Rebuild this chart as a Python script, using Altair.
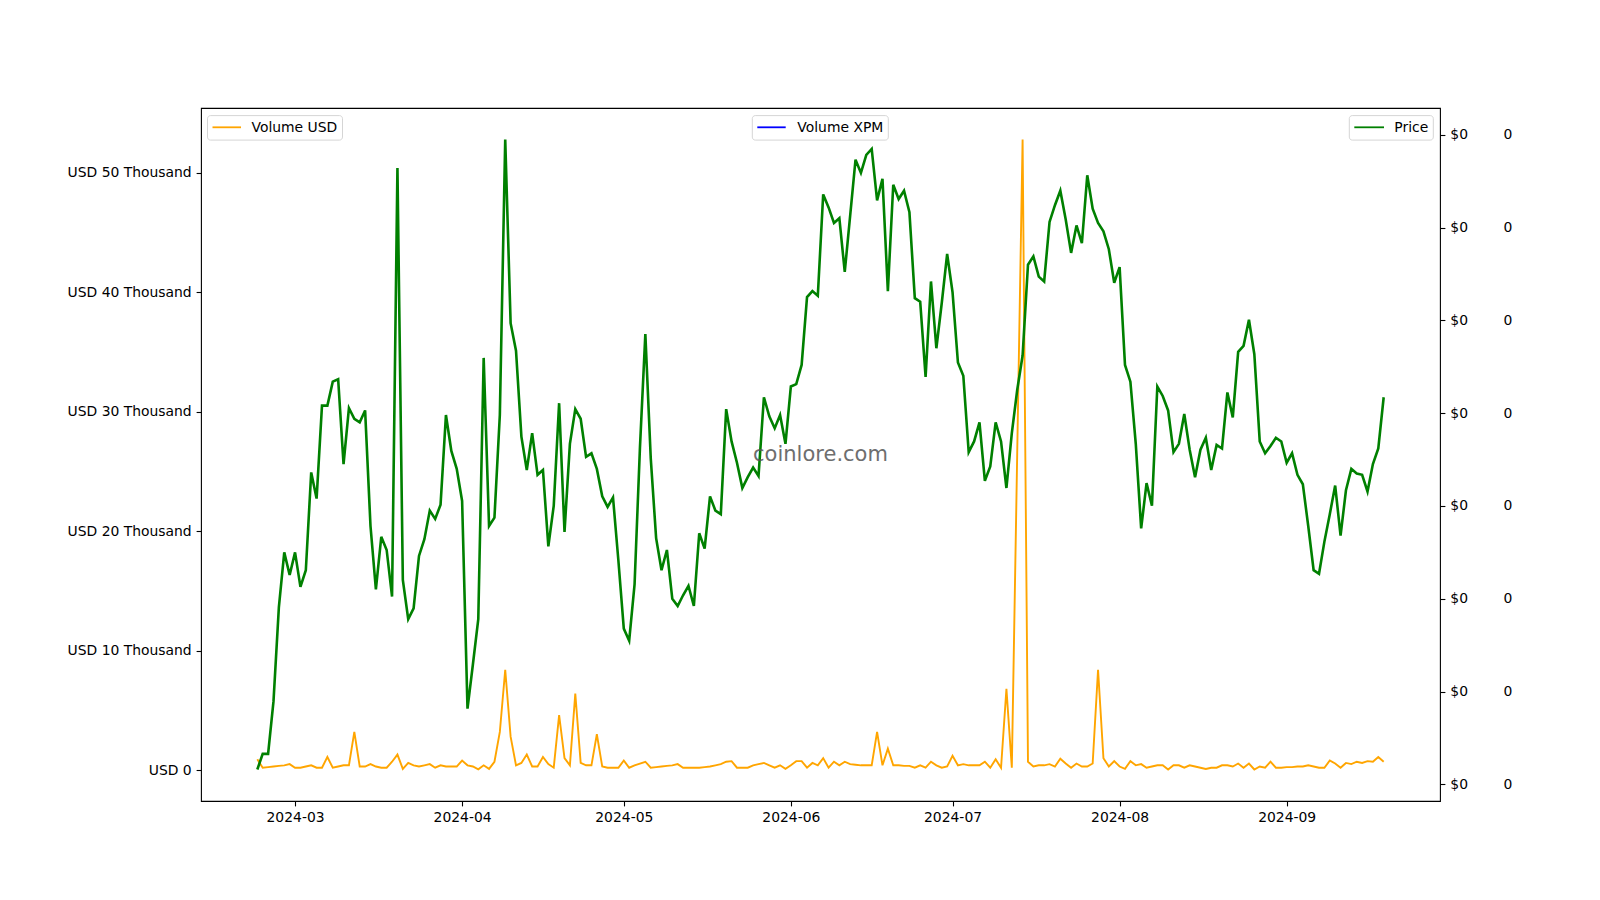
import altair as alt
import pandas as pd

# ---------------- data ----------------
dates = pd.date_range("2024-02-23", "2024-09-19", freq="D")

price = [
    0.02080, 0.02164, 0.02164, 0.02447, 0.02955, 0.03250, 0.03128, 0.03250, 0.03064, 0.03154,
    0.03681, 0.03540, 0.04041, 0.04041, 0.04170, 0.04183, 0.03726, 0.04028, 0.03970, 0.03951,
    0.04015, 0.03392, 0.03051, 0.03334, 0.03263, 0.03012, 0.05321, 0.03102, 0.02890, 0.02948,
    0.03231, 0.03321, 0.03475, 0.03430, 0.03507, 0.03990, 0.03797, 0.03700, 0.03527, 0.02408,
    0.02646, 0.02890, 0.04298, 0.03392, 0.03437, 0.03990, 0.05475, 0.04485, 0.04337, 0.03874,
    0.03694, 0.03893, 0.03668, 0.03694, 0.03282, 0.03501, 0.04054, 0.03360, 0.03835, 0.04022,
    0.03970, 0.03765, 0.03784, 0.03700, 0.03552, 0.03495, 0.03546, 0.03205, 0.02839, 0.02774,
    0.03077, 0.03816, 0.04427, 0.03758, 0.03327, 0.03154, 0.03263, 0.03000, 0.02961, 0.03019,
    0.03070, 0.02961, 0.03353, 0.03270, 0.03552, 0.03475, 0.03456, 0.04022, 0.03848, 0.03733,
    0.03597, 0.03655, 0.03707, 0.03662, 0.04086, 0.03983, 0.03919, 0.03990, 0.03835, 0.04144,
    0.04157, 0.04260, 0.04626, 0.04658, 0.04633, 0.05179, 0.05109, 0.05025, 0.05051, 0.04761,
    0.05064, 0.05366, 0.05295, 0.05392, 0.05424, 0.05147, 0.05263, 0.04658, 0.05231, 0.05154,
    0.05199, 0.05083, 0.04620, 0.04601, 0.04196, 0.04710, 0.04350, 0.04594, 0.04858, 0.04652,
    0.04273, 0.04202, 0.03790, 0.03848, 0.03951, 0.03636, 0.03713, 0.03951, 0.03848, 0.03597,
    0.03893, 0.04125, 0.04311, 0.04800, 0.04845, 0.04736, 0.04710, 0.05031, 0.05121, 0.05199,
    0.05044, 0.04864, 0.05012, 0.04916, 0.05282, 0.05102, 0.05025, 0.04980, 0.04884, 0.04703,
    0.04787, 0.04260, 0.04170, 0.03835, 0.03379, 0.03623, 0.03501, 0.04144, 0.04093, 0.04015,
    0.03790, 0.03835, 0.03996, 0.03803, 0.03655, 0.03803, 0.03868, 0.03694, 0.03829, 0.03810,
    0.04112, 0.03977, 0.04331, 0.04363, 0.04504, 0.04318, 0.03848, 0.03784, 0.03823, 0.03868,
    0.03848, 0.03733, 0.03784, 0.03668, 0.03617, 0.03392, 0.03154, 0.03135, 0.03308, 0.03456,
    0.03610, 0.03340, 0.03585, 0.03700, 0.03675, 0.03668, 0.03578, 0.03726, 0.03810, 0.04086,
]

volume_usd = [
    900, 200, 250, 300, 350, 400, 500, 200, 200, 300,
    400, 200, 200, 1100, 200, 300, 400, 400, 3200, 300,
    300, 500, 300, 200, 200, 700, 1300, 100, 600, 400,
    300, 400, 500, 200, 400, 300, 300, 300, 800, 400,
    300, 60, 400, 100, 700, 3200, 8400, 2800, 400, 600,
    1300, 300, 300, 1100, 500, 200, 4600, 1000, 400, 6400,
    600, 400, 400, 3000, 300, 200, 200, 200, 800, 200,
    400, 550, 700, 200, 250, 300, 350, 400, 500, 200,
    200, 200, 200, 250, 300, 400, 500, 700, 750, 200,
    200, 200, 400, 500, 600, 400, 200, 400, 100, 400,
    750, 750, 200, 600, 400, 1000, 200, 700, 400, 700,
    500, 450, 400, 400, 400, 3200, 400, 1800, 400, 400,
    350, 350, 200, 400, 200, 700, 400, 200, 300, 1200,
    400, 500, 400, 400, 400, 700, 200, 900, 200, 6800,
    200, 26500, 52800, 700, 300, 400, 400, 500, 300, 950,
    550, 200, 550, 300, 300, 550, 8400, 1000, 300, 750,
    300, 100, 750, 400, 500, 200, 300, 400, 400, 50,
    400, 400, 200, 400, 300, 200, 100, 200, 200, 400,
    400, 300, 550, 200, 550, 50, 300, 200, 700, 200,
    200, 250, 250, 300, 300, 400, 300, 200, 200, 800,
    550, 200, 600, 500, 700, 600, 750, 700, 1100, 700,
]

# no XPM volume is drawn in the reference
volume_xpm = [None] * len(dates)

vol_ticks = [0, 10000, 20000, 30000, 40000, 50000]
price_ticks = [0.020, 0.025, 0.030, 0.035, 0.040, 0.045, 0.050, 0.055]
month_ticks = [alt.DateTime(year=2024, month=m, date=1, utc=True) for m in range(3, 10)]

legend_usd = ["Volume USD"]
legend_xpm = ["Volume XPM"]
legend_price = ["Price"]
watermark = ["coinlore.com"]

# ---------------- scales (matplotlib-like 5% margins) ----------------
def padded(vals):
    lo, hi = min(vals), max(vals)
    r = hi - lo
    return [lo - 0.05 * r, hi + 0.05 * r]

vol_dom = padded(volume_usd)
price_dom = padded(price)
span = dates[-1] - dates[0]
x_dom = [int((dates[0] - span * 0.05).value // 10**6), int((dates[-1] + span * 0.05).value // 10**6)]

df = pd.DataFrame({
    "date": dates.strftime("%Y-%m-%d"),
    "vol": volume_usd,
    "price": price,
    "xpm": volume_xpm,
})

FONT = "DejaVu Sans"
FS = 13.9

x_enc = alt.X(
    "date:T",
    scale=alt.Scale(type="utc", domain=x_dom),
    axis=alt.Axis(values=month_ticks, labelExpr="utcFormat(datum.value, '%Y-%m')", title=None),
)

vol_line = alt.Chart(df).mark_line(color="orange", strokeWidth=1.9).encode(
    x=x_enc,
    y=alt.Y(
        "vol:Q",
        scale=alt.Scale(domain=vol_dom, nice=False, zero=False),
        axis=alt.Axis(
            orient="left", values=vol_ticks, title=None,
            labelExpr="datum.value == 0 ? 'USD 0' : 'USD ' + format(datum.value / 1000, 'd') + ' Thousand'",
        ),
    ),
)

price_line = alt.Chart(df).mark_line(color="green", strokeWidth=2.6).encode(
    x=x_enc,
    y=alt.Y(
        "price:Q",
        scale=alt.Scale(domain=price_dom, nice=False, zero=False),
        axis=alt.Axis(orient="right", values=price_ticks, format="$,.0f", title=None),
    ),
)

xpm_line = alt.Chart(df).mark_line(color="blue", strokeWidth=1.5).encode(
    x=x_enc,
    y=alt.Y(
        "xpm:Q",
        scale=alt.Scale(domain=price_dom, nice=False, zero=False),
        axis=alt.Axis(orient="right", values=price_ticks, format=",.0f", title=None,
                      offset=58, ticks=False, tickSize=0, labelPadding=5),
    ),
)


def legend_box(label, color, x0, x1, sx0, sx1, tx):
    d = pd.DataFrame({"label": label})
    box = alt.Chart(d).mark_rect(fill="white", stroke="#d5d5d5", strokeWidth=1, cornerRadius=3).encode(
        x=alt.value(x0), x2=alt.value(x1), y=alt.value(7.6), y2=alt.value(32.1)
    )
    swatch = alt.Chart(d).mark_rule(color=color, strokeWidth=1.8).encode(
        x=alt.value(sx0), x2=alt.value(sx1), y=alt.value(19.3)
    )
    txt = alt.Chart(d).mark_text(align="left", baseline="middle", font=FONT, fontSize=FS, color="black").encode(
        x=alt.value(tx), y=alt.value(20.0), text="label:N"
    )
    return [box, swatch, txt]


decos = []
decos += legend_box(legend_usd, "orange", 6.5, 141.5, 11.5, 40.0, 50.5)
decos += legend_box(legend_xpm, "blue", 551.3, 687.3, 556.3, 584.7, 596.3)
decos += legend_box(legend_price, "green", 1148.3, 1232.3, 1153.3, 1183.0, 1193.3)

wm = alt.Chart(pd.DataFrame({"t": watermark})).mark_text(
    align="center", baseline="middle", font=FONT, fontSize=21, color="#555555", opacity=0.85
).encode(x=alt.value(619.5), y=alt.value(346.5), text="t:N")

chart = (
    alt.layer(vol_line, price_line, xpm_line, *decos, wm)
    .resolve_scale(y="independent")
    .properties(
        width=1239,
        height=693,
        autosize=alt.AutoSizeParams(type="none"),
        padding={"left": 193, "top": 100, "right": 150, "bottom": 80},
        background="white",
    )
    .configure_view(stroke="black", strokeWidth=1.1)
    .configure_axis(
        labelFont=FONT, labelFontSize=FS, labelColor="black",
        tickColor="black", tickSize=4.9, tickWidth=1.1,
        grid=False, domain=False, labelPadding=4.9,
    )
)

chart.save("out.html", embed_options={"renderer": "svg", "actions": False})
